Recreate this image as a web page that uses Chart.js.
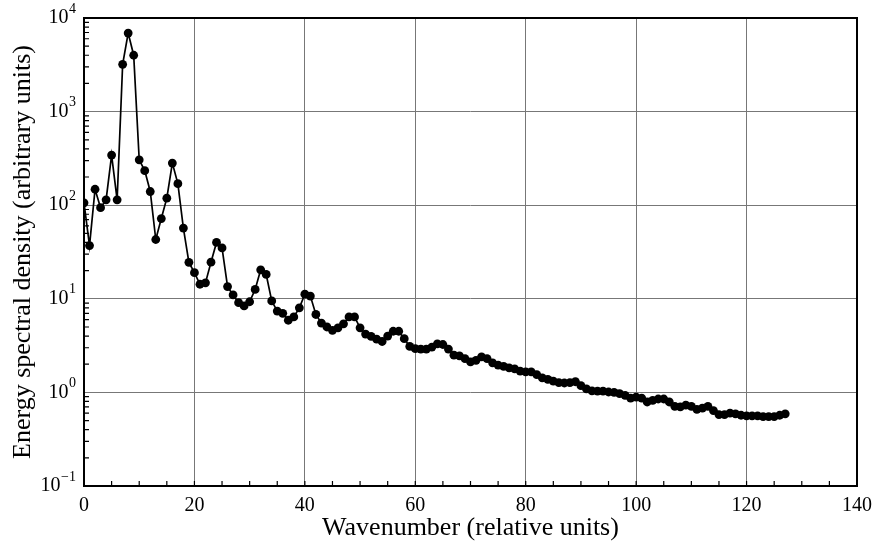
<!DOCTYPE html>
<html>
<head>
<meta charset="utf-8">
<script src="https://cdn.jsdelivr.net/npm/chart.js@4.4.1/dist/chart.umd.min.js"></script>
<style>
  html, body { margin: 0; padding: 0; background: #fff; }
  #wrap { width: 875px; height: 548px; }
</style>
</head>
<body>
<div id="wrap"><canvas id="spectrum"></canvas></div>
<script>
// energy spectral density, one value per wavenumber 0..127
const energy = [
  106, 37, 148, 94, 114, 343, 114, 3200, 6900, 4000,
  305, 234, 140, 43, 72, 119, 282, 170, 57, 24.5,
  19, 14.3, 14.8, 24.6, 40, 35, 13.5, 11, 9.1, 8.4,
  9.3, 12.6, 20.4, 18.2, 9.5, 7.4, 7.0, 5.9, 6.4, 8.0,
  11.2, 10.7, 6.8, 5.5, 5.0, 4.6, 4.9, 5.4, 6.4, 6.4,
  4.9, 4.2, 3.96, 3.7, 3.5, 4.0, 4.5, 4.5, 3.75, 3.1,
  2.93, 2.9, 2.9, 3.05, 3.3, 3.25, 2.9, 2.5, 2.45, 2.3,
  2.12, 2.2, 2.4, 2.3, 2.07, 1.96, 1.9, 1.83, 1.78, 1.69,
  1.66, 1.66, 1.55, 1.43, 1.38, 1.32, 1.27, 1.26, 1.27, 1.3,
  1.18, 1.09, 1.04, 1.03, 1.03, 1.01, 1.0, 0.97, 0.93, 0.87,
  0.89, 0.87, 0.79, 0.82, 0.85, 0.85, 0.79, 0.71, 0.70, 0.73,
  0.71, 0.66, 0.68, 0.71, 0.64, 0.58, 0.58, 0.60, 0.59, 0.57,
  0.56, 0.56, 0.56, 0.55, 0.55, 0.55, 0.57, 0.59
];
const yTicks = [0.1, 1, 10, 100, 1000, 10000];
const yExponents = ["\u22121", "0", "1", "2", "3", "4"];
const xTicks = [0, 20, 40, 60, 80, 100, 120, 140];

const points = energy.map((v, i) => ({ x: i, y: v }));

// frame, inward minor ticks and 10^n labels
const frameTicks = {
  id: "frameTicks",
  afterDraw(chart) {
    const ctx = chart.ctx;
    const a = chart.chartArea;
    const xs = chart.scales.x, ys = chart.scales.y;
    ctx.save();
    ctx.strokeStyle = "#000";
    ctx.lineWidth = 1.2;
    ctx.beginPath();
    for (let v = 5; v < 140; v += 5) {
      const px = xs.getPixelForValue(v);
      ctx.moveTo(px, a.bottom);
      ctx.lineTo(px, a.bottom - 5);
    }
    for (let d = -1; d < 4; d++) {
      for (let m = 2; m <= 9; m++) {
        const py = ys.getPixelForValue(m * Math.pow(10, d));
        ctx.moveTo(a.left, py);
        ctx.lineTo(a.left + 5, py);
      }
    }
    ctx.stroke();
    ctx.lineWidth = 2;
    ctx.strokeRect(a.left, a.top, a.right - a.left, a.bottom - a.top);

    // y labels: "10" with raised exponent
    ctx.fillStyle = "#000";
    ctx.textBaseline = "middle";
    yTicks.forEach((v, i) => {
      const py = ys.getPixelForValue(v);
      ctx.font = "14px 'Liberation Serif'";
      ctx.textAlign = "left";
      const ew = ctx.measureText(yExponents[i]).width;
      const ex = a.left - 8 - ew;
      ctx.fillText(yExponents[i], ex, py - 9);
      ctx.font = "20px 'Liberation Serif'";
      ctx.textAlign = "right";
      ctx.fillText("10", ex - 0.5, py);
    });
    ctx.restore();
  }
};

new Chart("spectrum", {
  type: "line",
  data: {
    datasets: [
      {
        label: "Energy spectral density",
        data: points,
        borderColor: "#000",
        backgroundColor: "#000",
        borderWidth: 1.7,
        pointRadius: 4.4,
        pointBorderWidth: 0,
        lineTension: 0,
        fill: false,
      },
    ],
  },
  options: {
    responsive: true,
    maintainAspectRatio: false,
    animation: false,
    layout: { padding: { top: 18, right: 18, left: 0, bottom: 0 } },
    plugins: { legend: { display: false }, tooltip: { enabled: false } },
    scales: {
      x: {
        type: "linear",
        min: 0,
        max: 140,
        afterBuildTicks(scale) {
          scale.ticks = xTicks.map(v => ({ value: v }));
        },
        afterFit(scale) {
          scale.height = 62;
          scale.paddingLeft = 0;
          scale.paddingRight = 0;
        },
        grid: { color: "#777", lineWidth: 1, drawTicks: false },
        border: { display: false },
        ticks: {
          color: "#000",
          padding: 8,
          maxRotation: 0,
          font: { family: "Liberation Serif", size: 20 },
        },
        title: {
          display: true,
          text: "Wavenumber (relative units)",
          color: "#000",
          padding: { top: 0, bottom: 4 },
          font: { family: "Liberation Serif", size: 26 },
        },
      },
      y: {
        type: "logarithmic",
        min: 0.1,
        max: 10000,
        afterBuildTicks(scale) {
          scale.ticks = yTicks.map(v => ({ value: v }));
        },
        afterFit(scale) {
          scale.width = 84;
          scale.paddingTop = 0;
          scale.paddingBottom = 0;
        },
        grid: { color: "#777", lineWidth: 1, drawTicks: false },
        border: { display: false },
        ticks: { display: false },
        title: {
          display: true,
          text: "Energy spectral density (arbitrary units)",
          color: "#000",
          padding: { top: 8, bottom: 0 },
          font: { family: "Liberation Serif", size: 26 },
        },
      },
    },
  },
  plugins: [frameTicks],
});
</script>
</body>
</html>
